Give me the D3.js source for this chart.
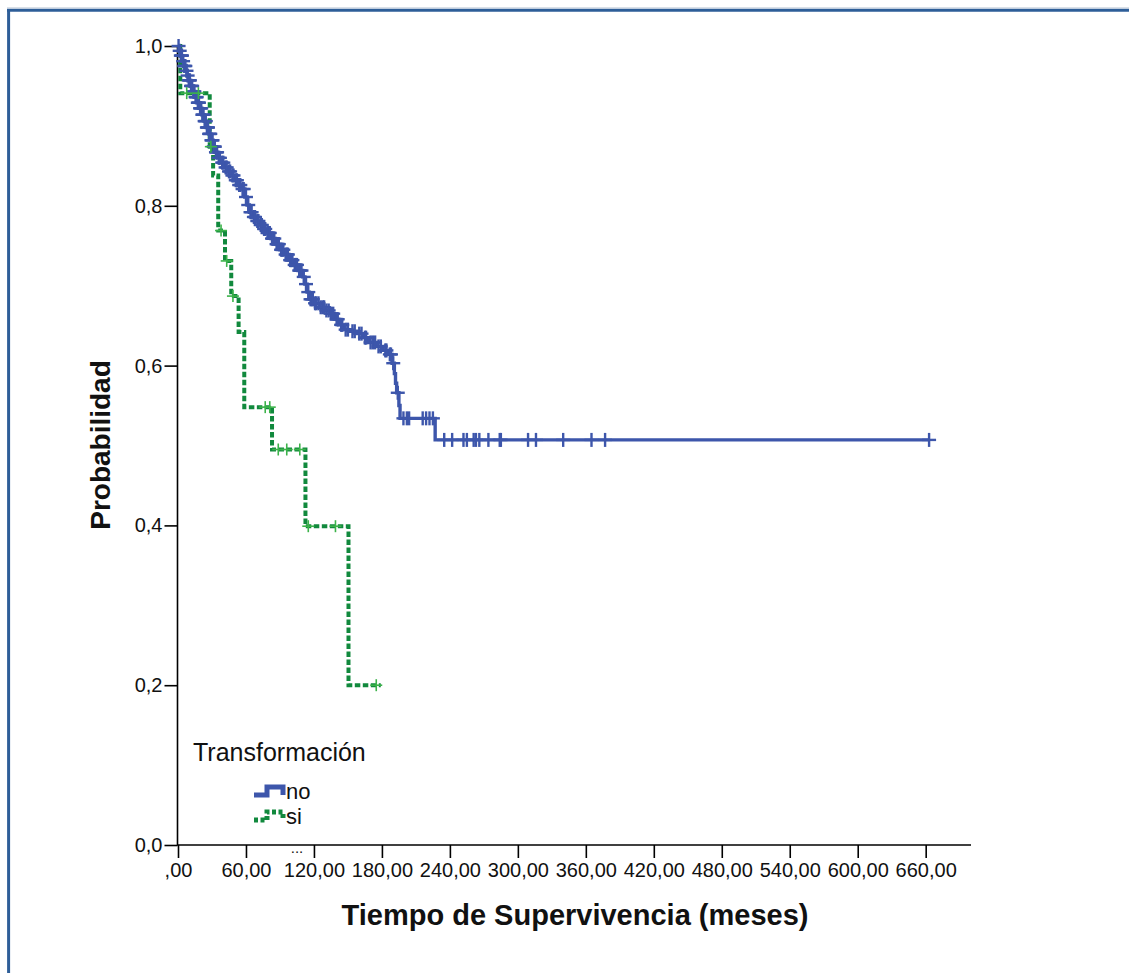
<!DOCTYPE html>
<html>
<head>
<meta charset="utf-8">
<script src="https://cdn.jsdelivr.net/npm/d3@7"></script>
<style>
  html, body { margin: 0; padding: 0; background: #fff; }
  svg { display: block; }
  text { font-family: "Liberation Sans", Arial, sans-serif; fill: #111; }
</style>
</head>
<body>
<svg id="chart" width="1129" height="973"></svg>
<script>
// Kaplan-Meier survival by transformation status (months)

// Group "no": event times and survival after each step
const noTimes = [1,2,4,5,7,8,9,11,13,15,17,19,21,23,25,27,29,31,33,35,38,41,44,47,50,53,56,59,61,63,66,69,72,75,78,82,86,90,94,98,102,106,110,112,114,116,120,125,130,134,138,142,146,152,158,163,168,175,181,186,189,191,192,193,195,196,227];
const noSurv  = [0.994,0.988,0.981,0.975,0.969,0.963,0.957,0.950,0.943,0.936,0.929,0.922,0.914,0.906,0.898,0.890,0.882,0.874,0.867,0.860,0.854,0.848,0.843,0.838,0.832,0.826,0.821,0.811,0.801,0.792,0.786,0.781,0.776,0.771,0.766,0.759,0.752,0.745,0.739,0.732,0.726,0.719,0.711,0.702,0.692,0.683,0.678,0.673,0.669,0.665,0.658,0.651,0.645,0.643,0.640,0.635,0.629,0.624,0.619,0.614,0.603,0.590,0.578,0.566,0.550,0.534,0.507];
const noCensored = [0.5,1.5,2.5,3,3.5,4.5,5.5,6,6.5,7.5,8.5,9.5,10,10.5,11.5,12,12.5,13.5,14,14.5,15.5,16,16.5,17.5,18,18.5,19.5,20,20.5,21.5,22,22.5,23.5,24,24.5,25.5,26,26.5,27.5,28,28.5,29.5,30,30.5,31.5,32,32.5,33.5,34,34.5,36,37,39,40,42,43,45,46,48,49,51,52,54,55,57,58,60,62,64,65,67,68,70,71,73,74,76,77,79,80,81,83,84,85,87,88,89,91,92,93,95,96,97,99,100,101,103,104,105,107,108,109,111,113,115,117,118,119,121,122,124,126,128,129,131,133,135,137,140,141,144,145,148,150,154,156,160,162,165,166,170,172,174,177,179,183,184,187,188,190,194,199,202,204,216,219,222,225,235,242,252,255,261,263,266,274,284,285,309,316,340,365,377,663];
const noEnd = 663;

// Group "si"
const siTimes = [2,28,31,35.5,41.5,47,53.5,58.5,83,112.5,150.5];
const siSurv  = [0.941,0.874,0.838,0.769,0.731,0.687,0.642,0.548,0.495,0.399,0.200];
const siCensored = [7.7,18,29,38,43,48.5,77,81,88.5,96,107.5,115,139,175];
const siEnd = 179;

const groups = ["no", "si"];
const legendTitle = "Transformación";
const xTickValues = [0,60,120,180,240,300,360,420,480,540,600,660];
const xTickLabels = [",00","60,00","120,00","180,00","240,00","300,00","360,00","420,00","480,00","540,00","600,00","660,00"];
const yTickValues = [0,0.2,0.4,0.6,0.8,1.0];
const yTickLabels = ["0,0","0,2","0,4","0,6","0,8","1,0"];
const xTitle = "Tiempo de Supervivencia (meses)";
const yTitle = "Probabilidad";

const svg = d3.select("#chart");
const BLUE = "#3d56ab";
const GREEN = "#11893d";
const GREEN_MARK = "#3cb34a";
const FRAME = "#2e5e98";

// page frame (top and left rules)
svg.append("line").attr("x1", 7).attr("x2", 1129).attr("y1", 7.8).attr("y2", 7.8)
  .attr("stroke", "#c9d3df").attr("stroke-width", 1);
svg.append("line").attr("x1", 7).attr("x2", 1129).attr("y1", 10.3).attr("y2", 10.3)
  .attr("stroke", FRAME).attr("stroke-width", 3);
svg.append("line").attr("x1", 8.6).attr("x2", 8.6).attr("y1", 9).attr("y2", 973)
  .attr("stroke", FRAME).attr("stroke-width", 3);

const x = d3.scaleLinear().domain([0, 700]).range([178, 971]);
const y = d3.scaleLinear().domain([0, 1]).range([845, 46]);

// axes
const yAxis = d3.axisLeft(y).tickValues(yTickValues)
  .tickFormat((d, i) => yTickLabels[i]).tickSize(13).tickPadding(2);
const gy = svg.append("g").attr("transform", "translate(177.5,0)").call(yAxis);
gy.select(".domain").attr("d", `M0,${y(1)}V${y(0)}`).attr("stroke", "#000").attr("stroke-width", 1.6);
gy.selectAll(".tick line").attr("stroke", "#000").attr("stroke-width", 1.6);
gy.selectAll(".tick text").attr("font-size", 20).attr("fill", "#111")
  .style("font-family", "'Liberation Sans', Arial, sans-serif");

const xAxis = d3.axisBottom(x).tickValues(xTickValues)
  .tickFormat((d, i) => xTickLabels[i]).tickSize(13).tickPadding(5);
const gx = svg.append("g").attr("transform", "translate(0,845)").call(xAxis);
gx.select(".domain").attr("d", `M${x(0) - 1},0H${x(700)}`).attr("stroke", "#000").attr("stroke-width", 1.6);
gx.selectAll(".tick line").attr("stroke", "#000").attr("stroke-width", 1.6);
gx.selectAll(".tick text").attr("font-size", 20).attr("fill", "#111")
  .style("font-family", "'Liberation Sans', Arial, sans-serif");

svg.append("text").attr("x", 297).attr("y", 853).attr("text-anchor", "middle")
  .attr("font-size", 15).attr("fill", "#333").text("...");

// axis titles
svg.append("text").attr("x", 575).attr("y", 925).attr("text-anchor", "middle")
  .attr("font-size", 29).attr("font-weight", "bold").text(xTitle);
svg.append("text").attr("transform", "translate(110,445) rotate(-90)")
  .attr("text-anchor", "middle").attr("font-size", 28).attr("font-weight", "bold").text(yTitle);

// survival curves
function stepPoints(times, surv, end) {
  const pts = [[0, 1]];
  times.forEach((t, i) => pts.push([t, surv[i]]));
  pts.push([end, surv[surv.length - 1]]);
  return pts;
}
function survAt(times, surv, t) {
  let s = 1;
  times.forEach((tt, i) => { if (tt <= t) s = surv[i]; });
  return s;
}
const line = d3.line().x(d => x(d[0])).y(d => y(d[1])).curve(d3.curveStepAfter);

svg.append("path").datum(stepPoints(noTimes, noSurv, noEnd))
  .attr("d", line).attr("fill", "none").attr("stroke", BLUE).attr("stroke-width", 3.4);

svg.append("path").datum(stepPoints(siTimes, siSurv, siEnd))
  .attr("d", line).attr("fill", "none").attr("stroke", GREEN).attr("stroke-width", 4)
  .attr("stroke-dasharray", "5.5,2.5");

function censorMarks(times, surv, cens, color, armX, armY, w) {
  const g = svg.append("g").attr("stroke", color).attr("stroke-width", w);
  cens.forEach(t => {
    const cx = x(t), cy = y(survAt(times, surv, t));
    g.append("line").attr("x1", cx - armX).attr("x2", cx + armX).attr("y1", cy).attr("y2", cy);
    g.append("line").attr("x1", cx).attr("x2", cx).attr("y1", cy - armY).attr("y2", cy + armY);
  });
}
censorMarks(noTimes, noSurv, noCensored, BLUE, 7, 7, 2.4);
censorMarks(siTimes, siSurv, siCensored, GREEN_MARK, 6, 6, 1.6);

// legend
svg.append("text").attr("x", 193).attr("y", 761).attr("font-size", 25).text(legendTitle);
const legendColors = [BLUE, GREEN];
const legendDash = [null, "4,2.5"];
groups.forEach((g, i) => {
  const base = 795 + i * 25;
  svg.append("path").attr("d", `M254,${base}H267V${base - 8}H283V${base}`)
    .attr("fill", "none").attr("stroke", legendColors[i]).attr("stroke-width", 5)
    .attr("stroke-dasharray", legendDash[i]);
  svg.append("text").attr("x", 286).attr("y", base + 4).attr("font-size", 22).text(g);
});
</script>
</body>
</html>
